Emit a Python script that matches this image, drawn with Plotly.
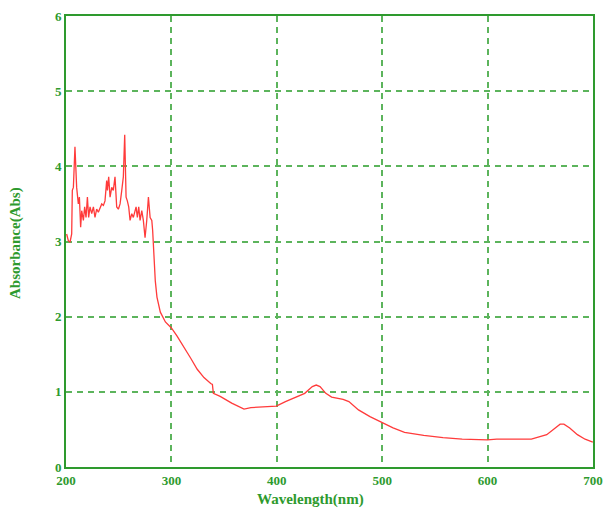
import plotly.graph_objects as go

wavelength = [200.6, 202.2, 203.8, 205.4, 206.0, 207.0, 208.5, 210.1, 211.7, 212.7, 213.9, 214.9,
              216.5, 217.7, 219.0, 220.3, 221.5, 222.8, 224.4, 226.0, 227.5, 229.1, 230.7, 232.3,
              233.9, 235.5, 237.0, 238.6, 239.3, 240.5, 241.8, 243.4, 244.9, 246.5, 248.1, 249.7,
              251.3, 252.9, 254.4, 255.7, 257.0, 258.2, 259.5, 260.8, 262.4, 263.9, 266.5, 267.7,
              269.0, 270.3, 271.9, 273.4, 275.0, 276.6, 278.2, 279.8, 281.4, 282.2,
              283.1, 284.7, 286.3, 289.5, 294.3, 300.0, 305.4, 311.8, 318.2, 324.5, 330.9, 337.3,
              338.9, 339.8, 346.3, 357.2, 368.9, 375.4, 393.7, 399.5, 408.2, 419.2, 426.5, 433.7,
              437.4, 441.0, 446.5, 452.0, 462.9, 468.4, 477.5, 488.4, 499.7, 510.3, 521.2, 539.4,
              557.7, 575.9, 599.9, 608.7, 641.5, 656.1, 663.3, 668.8, 672.4, 677.9, 685.2, 692.5,
              699.8]
absorbance = [3.10, 3.01, 2.99, 3.10, 3.68, 3.72, 4.26, 3.72, 3.50, 3.59, 3.19, 3.41,
              3.28, 3.46, 3.32, 3.59, 3.32, 3.46, 3.37, 3.46, 3.32, 3.43, 3.39, 3.46,
              3.50, 3.48, 3.54, 3.81, 3.68, 3.86, 3.59, 3.72, 3.68, 3.86, 3.46, 3.43,
              3.50, 3.68, 3.86, 4.42, 3.59, 3.54, 3.46, 3.28, 3.37, 3.32, 3.46, 3.32,
              3.46, 3.28, 3.41, 3.28, 3.05, 3.28, 3.59, 3.32, 3.28, 3.15,
              2.88, 2.48, 2.26, 2.06, 1.93, 1.85, 1.74, 1.60, 1.45, 1.30, 1.19, 1.11,
              1.10, 0.98, 0.94, 0.85, 0.77, 0.79, 0.81, 0.81, 0.87, 0.94, 0.98, 1.07,
              1.09, 1.07, 0.98, 0.93, 0.90, 0.87, 0.76, 0.67, 0.59, 0.52, 0.46, 0.42,
              0.39, 0.37, 0.36, 0.37, 0.37, 0.43, 0.51, 0.57, 0.57, 0.52, 0.43, 0.37,
              0.33]

x_ticks = [200, 300, 400, 500, 600, 700]
y_ticks = [0, 1, 2, 3, 4, 5, 6]

green = "#2e9a2e"
grid_green = "#5cb45c"
font = "Liberation Serif"

L, T, R, B = 66, 16, 10, 43
W, H = 603, 510
plot_h = H - T - B
plot_w = W - L - R

fig = go.Figure()
fig.add_trace(go.Scatter(x=wavelength, y=absorbance, mode="lines",
                         line=dict(color="#ff3b3b", width=1.3), showlegend=False))

tick_font = dict(size=13, color=green, family=font, weight="bold")

fig.update_layout(
    width=W, height=H,
    margin=dict(l=L, r=R, t=T, b=B),
    paper_bgcolor="white", plot_bgcolor="white",
    font=dict(family=font, color=green, size=13),
    xaxis=dict(range=[200, 700], tickvals=x_ticks, showgrid=True, gridcolor=grid_green,
               griddash="6px,5px", gridwidth=1.5, showline=True, linecolor=green, linewidth=2,
               mirror=True, ticks="", zeroline=False, automargin=False,
               tickfont=tick_font),
    yaxis=dict(range=[0, 6], tickvals=y_ticks, showgrid=True, gridcolor=grid_green,
               griddash="6px,5px", gridwidth=1.5, showline=True, linecolor=green, linewidth=2,
               mirror=True, ticks="", zeroline=False, automargin=False, ticklabelstandoff=0,
               tickfont=tick_font),
    annotations=[
        dict(text="<b>Wavelength(nm)</b>", x=(310 - L) / plot_w, xref="paper",
             y=-(499 - 467) / plot_h, yref="paper", showarrow=False,
             xanchor="center", yanchor="middle",
             font=dict(size=15, color=green, family=font)),
        dict(text="<b>Absorbance(Abs)</b>", x=-(L - 15) / plot_w, xref="paper",
             y=(467 - 243) / plot_h, yref="paper",
             showarrow=False, textangle=-90, xanchor="center", yanchor="middle",
             font=dict(size=15, color=green, family=font)),
    ],
)
fig.write_html("out.html", config={"displayModeBar": False},
               post_script="document.body.style.margin='0';document.body.style.overflow='hidden';")
